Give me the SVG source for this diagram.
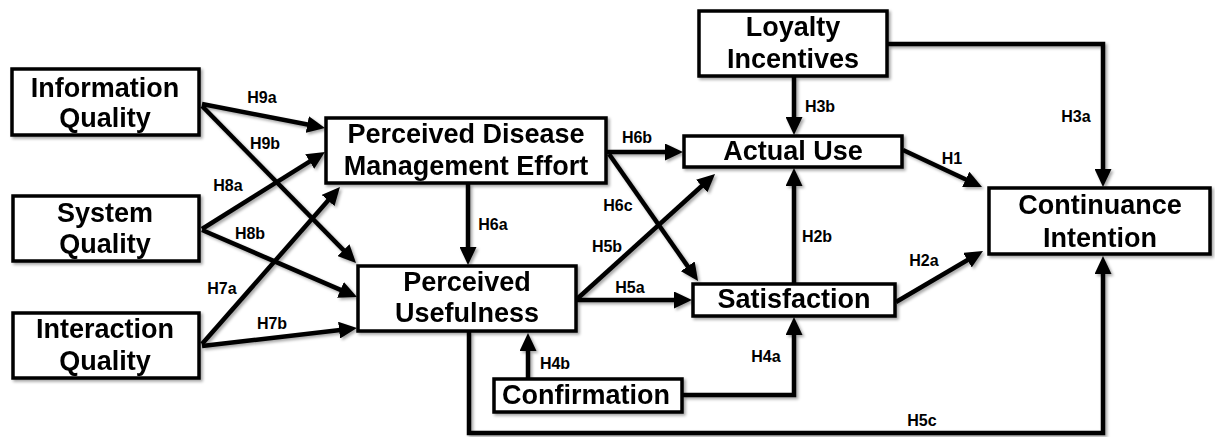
<svg xmlns="http://www.w3.org/2000/svg" width="1215" height="437" viewBox="0 0 1215 437">
<style>
.box{fill:#fff;stroke:#000;stroke-width:3.5}
.t{font-family:"Liberation Sans",Arial,sans-serif;font-weight:bold;font-size:27px;fill:#000;text-anchor:middle}
.lbl{font-family:"Liberation Sans",Arial,sans-serif;font-weight:bold;font-size:16px;fill:#000;text-anchor:middle}
.c{fill:none;stroke:#000;stroke-width:4.5;stroke-linejoin:miter;marker-end:url(#ah)}
</style>
<defs>
<filter id="sh" x="-10%" y="-10%" width="130%" height="140%">
<feDropShadow dx="2" dy="2" stdDeviation="1.5" flood-color="#000" flood-opacity="0.35"/>
</filter>
<marker id="ah" markerUnits="userSpaceOnUse" markerWidth="18" markerHeight="17" refX="12" refY="8.5" orient="auto">
<path d="M0,0 L18,8.5 L0,17 z" fill="#000"/>
</marker>
</defs>
<rect width="1215" height="437" fill="#fff"/>
<g id="connectors" filter="url(#sh)">
<line class="c" x1="202" y1="104" x2="319.1" y2="126.8"/>
<line class="c" x1="202" y1="106" x2="351.8" y2="258.7"/>
<line class="c" x1="202" y1="229" x2="319.9" y2="155.2"/>
<line class="c" x1="202" y1="230" x2="351.5" y2="294.6"/>
<line class="c" x1="202" y1="344" x2="336" y2="191.5"/>
<line class="c" x1="202" y1="346" x2="351" y2="328.7"/>
<line class="c" x1="468" y1="184" x2="468" y2="259"/>
<line class="c" x1="607" y1="152" x2="677" y2="152"/>
<line class="c" x1="609" y1="154" x2="694.6" y2="276.1"/>
<line class="c" x1="577" y1="299" x2="710.6" y2="178"/>
<line class="c" x1="577" y1="300" x2="686" y2="300"/>
<line class="c" x1="528" y1="378" x2="528" y2="339"/>
<polyline class="c" points="683,395 794,395 794,323"/>
<line class="c" x1="794" y1="283" x2="794" y2="174"/>
<line class="c" x1="794" y1="77" x2="794" y2="129"/>
<polyline class="c" points="888,44 1103,44 1103,181"/>
<line class="c" x1="903" y1="150" x2="976.6" y2="184.5"/>
<line class="c" x1="896" y1="302" x2="977.8" y2="254"/>
<polyline class="c" points="469,332 469,433 1103,433 1103,262"/>
</g>
<g id="labels">
<text class="lbl" x="262" y="103">H9a</text>
<text class="lbl" x="265" y="149">H9b</text>
<text class="lbl" x="228" y="191">H8a</text>
<text class="lbl" x="250" y="239">H8b</text>
<text class="lbl" x="222" y="294">H7a</text>
<text class="lbl" x="272" y="329">H7b</text>
<text class="lbl" x="493" y="230">H6a</text>
<text class="lbl" x="637" y="143">H6b</text>
<text class="lbl" x="618" y="211">H6c</text>
<text class="lbl" x="607" y="252">H5b</text>
<text class="lbl" x="630" y="293">H5a</text>
<text class="lbl" x="555" y="369">H4b</text>
<text class="lbl" x="766" y="362">H4a</text>
<text class="lbl" x="817" y="242">H2b</text>
<text class="lbl" x="820" y="112">H3b</text>
<text class="lbl" x="1076" y="122">H3a</text>
<text class="lbl" x="952" y="164">H1</text>
<text class="lbl" x="924" y="266">H2a</text>
<text class="lbl" x="922" y="426">H5c</text>
</g>
<g id="n-information-quality" filter="url(#sh)">
<rect class="box" x="12" y="69" width="187" height="66"/>
<text class="t" x="105" y="97">Information</text>
<text class="t" x="105" y="127">Quality</text>
</g>
<g id="n-system-quality" filter="url(#sh)">
<rect class="box" x="13" y="196" width="186" height="65"/>
<text class="t" x="105" y="222">System</text>
<text class="t" x="105" y="253">Quality</text>
</g>
<g id="n-interaction-quality" filter="url(#sh)">
<rect class="box" x="13" y="313" width="186" height="65"/>
<text class="t" x="105" y="338">Interaction</text>
<text class="t" x="105" y="370">Quality</text>
</g>
<g id="n-pdme" filter="url(#sh)">
<rect class="box" x="326" y="118" width="280" height="65"/>
<text class="t" x="466" y="143">Perceived Disease</text>
<text class="t" x="466" y="175">Management Effort</text>
</g>
<g id="n-perceived-usefulness" filter="url(#sh)">
<rect class="box" x="358" y="266" width="218" height="65"/>
<text class="t" x="467" y="291">Perceived</text>
<text class="t" x="467" y="322">Usefulness</text>
</g>
<g id="n-loyalty-incentives" filter="url(#sh)">
<rect class="box" x="699" y="11" width="188" height="65"/>
<text class="t" x="793" y="36">Loyalty</text>
<text class="t" x="793" y="68">Incentives</text>
</g>
<g id="n-actual-use" filter="url(#sh)">
<rect class="box" x="684" y="136" width="218" height="31"/>
<text class="t" x="793" y="160">Actual Use</text>
</g>
<g id="n-satisfaction" filter="url(#sh)">
<rect class="box" x="693" y="284" width="202" height="32"/>
<text class="t" x="794" y="308">Satisfaction</text>
</g>
<g id="n-confirmation" filter="url(#sh)">
<rect class="box" x="494" y="379" width="188" height="33"/>
<text class="t" x="586" y="404">Confirmation</text>
</g>
<g id="n-continuance-intention" filter="url(#sh)">
<rect class="box" x="989" y="188" width="221" height="66"/>
<text class="t" x="1100" y="214">Continuance</text>
<text class="t" x="1100" y="247">Intention</text>
</g>
</svg>
